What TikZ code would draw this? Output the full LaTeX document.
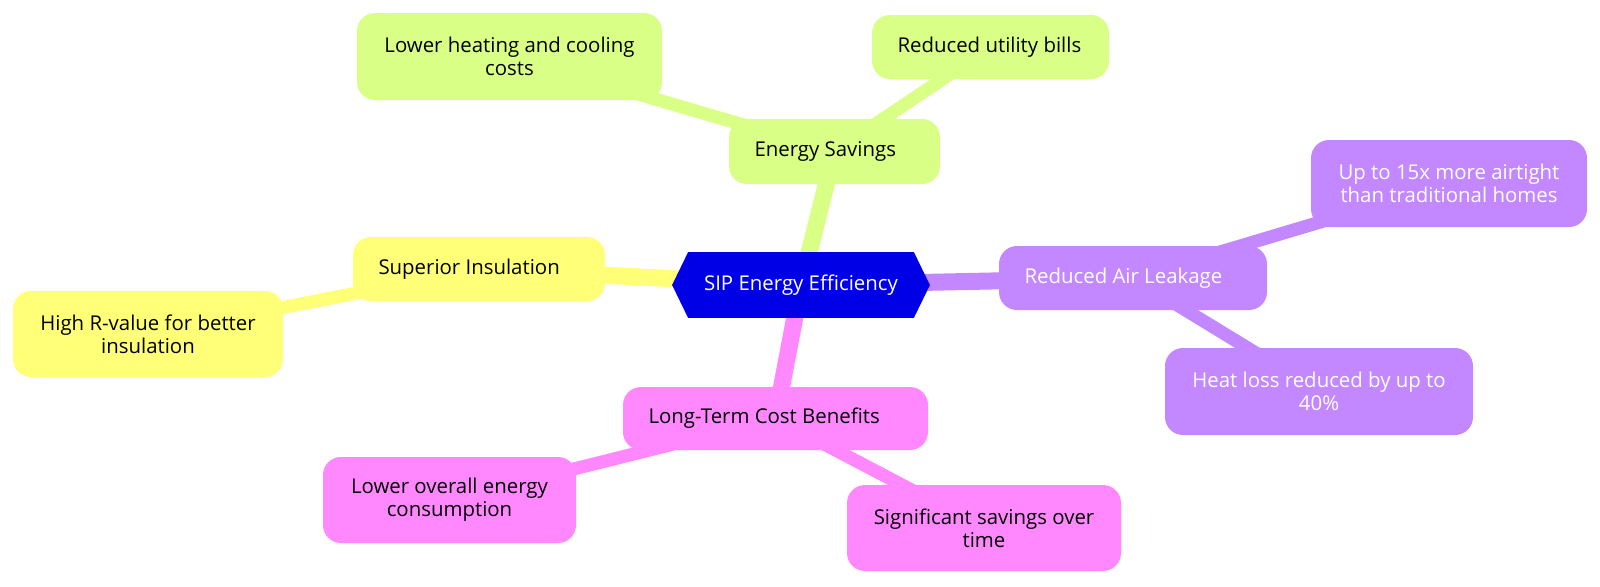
\documentclass[tikz,border=0pt]{standalone}
\usepackage{fontspec}
\setmainfont{Open Sans}
\usetikzlibrary{backgrounds,positioning}
\definecolor{sipblue}{HTML}{0000E6}
\definecolor{savegreen}{HTML}{D9FF87}
\definecolor{insulyellow}{HTML}{FFFF78}
\definecolor{leakpurple}{HTML}{C388FF}
\definecolor{costpink}{HTML}{FF88FF}
\tikzstyle{box}=[rectangle,inner sep=0pt,rounded corners=9pt,align=center,font=\fontsize{10.2pt}{11.4pt}\selectfont]
\tikzstyle{savings}=[box,fill=savegreen,text=black]
\tikzstyle{insulation}=[box,fill=insulyellow,text=black]
\tikzstyle{leakage}=[box,fill=leakpurple,text=white]
\tikzstyle{costs}=[box,fill=costpink,text=black]
\tikzset{oneline/.style={inner xsep=12.75pt,execute at begin node={\hbox to #1\bgroup},execute at end node={\hfil\egroup}}}
\tikzstyle{hub}=[rectangle,inner sep=0pt,minimum width=128.5pt,minimum height=32.5pt,text=white,font=\fontsize{10.2pt}{11.4pt}\selectfont]
\tikzstyle{branch}=[line width=8.5pt]
\tikzstyle{twig}=[line width=6.5pt]

\begin{document}
\begin{tikzpicture}[x=0.5pt,y=-0.5pt]
\useasboundingbox (0,0) rectangle (1600,586);

\node (sip) [hub] at (801,285) {SIP Energy Efficiency} ;

\node (save) [savings,oneline=80pt,minimum height=32.5pt] at (834.5,151.5) {Energy Savings} ;
\node (heatcool) [savings,minimum width=152.5pt,minimum height=43.5pt] at (509.5,56.5) {Lower heating and cooling\\costs} ;
\node (bills) [savings,oneline=93pt,minimum height=32pt] at (990.5,47) {Reduced utility bills} ;

\node (insul) [insulation,oneline=100.5pt,minimum height=32pt] at (479,269) {Superior Insulation} ;
\node (rvalue) [insulation,minimum width=135pt,minimum height=43pt] at (148,334) {High R-value for better\\insulation} ;

\node (leak) [leakage,oneline=108.5pt,minimum height=32pt] at (1133,278) {Reduced Air Leakage} ;
\node (airtight) [leakage,minimum width=138pt,minimum height=43.5pt] at (1449,183.5) {Up to 15x more airtight\\than traditional homes} ;
\node (heatloss) [leakage,minimum width=154pt,minimum height=43.5pt] at (1319,391.5) {Heat loss reduced by up to\\40\%} ;

\node (longterm) [costs,oneline=127pt,minimum height=31.5pt] at (775.5,418.5) {Long-Term Cost Benefits} ;
\node (overall) [costs,minimum width=126.5pt,minimum height=43pt] at (449.5,500) {Lower overall energy\\consumption} ;
\node (sigsave) [costs,minimum width=137pt,minimum height=43pt] at (984,528) {Significant savings over\\time} ;

\begin{scope}[on background layer]
% branches off the hub
\draw [branch,savegreen] (sip.center) -- (save.center) ;
\draw [branch,insulyellow] (sip.center) -- (insul.center) ;
\draw [branch,leakpurple] (sip.center) -- (leak.center) ;
\draw [branch,costpink] (sip.center) -- (longterm.center) ;
% leaves
\draw [twig,savegreen] (save.center) -- (heatcool.center) ;
\draw [twig,savegreen] (save.center) -- (bills.center) ;
\draw [twig,insulyellow] (insul.center) -- (rvalue.center) ;
\draw [twig,leakpurple] (leak.center) -- (airtight.center) ;
\draw [twig,leakpurple] (leak.center) -- (heatloss.center) ;
\draw [twig,costpink] (longterm.center) -- (overall.center) ;
\draw [twig,costpink] (longterm.center) -- (sigsave.center) ;
% hexagon behind the hub text
\fill [sipblue] ([xshift=8pt]sip.north west) -- ([xshift=-8pt]sip.north east) -- (sip.east)
  -- ([xshift=-8pt]sip.south east) -- ([xshift=8pt]sip.south west) -- (sip.west) -- cycle ;
\end{scope}

\end{tikzpicture}
\end{document}
